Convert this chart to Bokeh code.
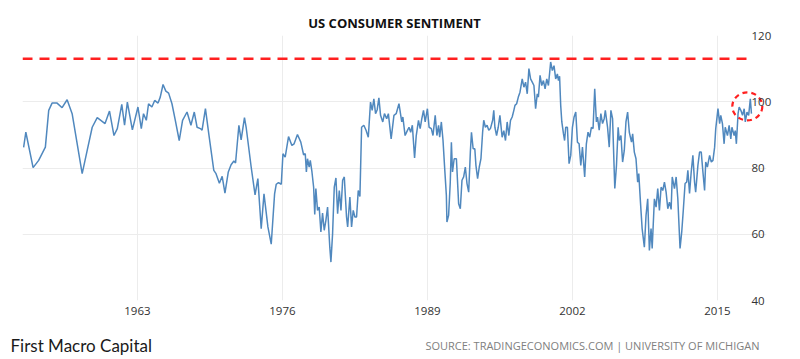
from bokeh.plotting import figure
from bokeh.models import Range1d, FixedTicker, Label
from bokeh.layouts import column
from bokeh.embed import file_html
from bokeh.resources import INLINE

# ---- data ----
years = [
    1952.8, 1953.0, 1953.65, 1954.15, 1954.75, 1955.05, 1955.35, 1955.8, 1956.25, 1956.7,
    1957.15, 1958.05, 1958.5, 1958.95, 1959.4, 1960.1, 1960.5, 1960.9, 1961.2, 1961.6,
    1961.85, 1962.1, 1962.55, 1963.05, 1963.35, 1963.55, 1963.8, 1964.0, 1964.3, 1964.55,
    1964.85, 1965.05, 1965.3, 1965.55, 1965.8, 1966.1, 1966.4, 1966.75, 1967.05, 1967.45,
    1967.8, 1968.1, 1968.35, 1968.65, 1968.8, 1969.1, 1969.4, 1969.85, 1970.05, 1970.35,
    1970.6, 1970.85, 1971.15, 1971.4, 1971.65, 1971.8, 1972.1, 1972.3, 1972.6, 1972.75,
    1973.2, 1973.55, 1973.8, 1974.1, 1974.35, 1974.7, 1975.0, 1975.3, 1975.45, 1975.65,
    1975.9, 1976.05, 1976.25, 1976.55, 1976.85, 1977.05, 1977.35, 1977.65, 1977.9, 1978.05,
    1978.15, 1978.25, 1978.4, 1978.5, 1978.65, 1978.8, 1978.9, 1979.0, 1979.15, 1979.3,
    1979.45, 1979.6, 1979.75, 1979.9, 1980.05, 1980.25, 1980.35, 1980.5, 1980.65, 1980.8,
    1980.95, 1981.1, 1981.25, 1981.4, 1981.55, 1981.75, 1981.85, 1982.05, 1982.2, 1982.35,
    1982.5, 1982.65, 1982.8, 1982.95, 1983.1, 1983.3, 1983.5, 1983.7, 1983.9, 1984.05,
    1984.2, 1984.35, 1984.5, 1984.65, 1984.8, 1985.0, 1985.15, 1985.35, 1985.5, 1985.75,
    1986.0, 1986.2, 1986.45, 1986.7, 1986.8, 1987.0, 1987.2, 1987.35, 1987.5, 1987.65,
    1987.85, 1988.0, 1988.2, 1988.35, 1988.5, 1988.65, 1988.8, 1989.0, 1989.15, 1989.35,
    1989.5, 1989.7, 1989.85, 1990.0, 1990.1, 1990.25, 1990.4, 1990.55, 1990.7, 1990.75,
    1990.9, 1991.05, 1991.15, 1991.25, 1991.4, 1991.6, 1991.8, 1991.95, 1992.1, 1992.25,
    1992.4, 1992.55, 1992.7, 1992.85, 1992.95, 1993.1, 1993.25, 1993.35, 1993.5, 1993.65,
    1993.8, 1993.95, 1994.05, 1994.2, 1994.35, 1994.5, 1994.65, 1994.85, 1994.95, 1995.05,
    1995.2, 1995.35, 1995.5, 1995.7, 1995.85, 1996.0, 1996.15, 1996.3, 1996.45, 1996.6,
    1996.75, 1996.85, 1997.0, 1997.15, 1997.3, 1997.5, 1997.65, 1997.8, 1997.95, 1998.1,
    1998.25, 1998.4, 1998.55, 1998.7, 1998.85, 1998.95, 1999.1, 1999.25, 1999.4, 1999.55,
    1999.7, 1999.85, 2000.05, 2000.2, 2000.35, 2000.5, 2000.65, 2000.75, 2000.85, 2000.95,
    2001.05, 2001.2, 2001.3, 2001.4, 2001.55, 2001.7, 2001.85, 2002.0, 2002.15, 2002.3,
    2002.45, 2002.6, 2002.75, 2002.9, 2003.1, 2003.25, 2003.4, 2003.55, 2003.7, 2003.85,
    2004.0, 2004.15, 2004.25, 2004.4, 2004.55, 2004.7, 2004.85, 2004.95, 2005.15, 2005.3,
    2005.45, 2005.6, 2005.8, 2005.95, 2006.1, 2006.2, 2006.35, 2006.5, 2006.65, 2006.8,
    2006.95, 2007.1, 2007.3, 2007.4, 2007.55, 2007.7, 2007.85, 2007.95, 2008.1, 2008.25,
    2008.45, 2008.6, 2008.75, 2008.9, 2009.05, 2009.15, 2009.35, 2009.5, 2009.65, 2009.8,
    2009.95, 2010.1, 2010.25, 2010.4, 2010.55, 2010.7, 2010.85, 2010.95, 2011.15, 2011.3,
    2011.45, 2011.65, 2011.8, 2011.95, 2012.1, 2012.25, 2012.35, 2012.5, 2012.65, 2012.8,
    2012.95, 2013.05, 2013.25, 2013.4, 2013.55, 2013.7, 2013.85, 2013.95, 2014.1, 2014.3,
    2014.45, 2014.6, 2014.75, 2014.85, 2015.05, 2015.2, 2015.3, 2015.45, 2015.6, 2015.7,
    2015.9, 2016.05, 2016.2, 2016.3, 2016.5, 2016.6, 2016.7, 2016.85, 2016.95, 2017.1,
    2017.25, 2017.4, 2017.5, 2017.65, 2017.8, 2017.95, 2018.05,
]
sentiment = [
    86.2, 90.8, 80.1, 82.3, 86.3, 97.4, 99.6, 99.6, 98.2, 100.6,
    96.4, 78.3, 85.3, 92.3, 95.2, 93.4, 97.2, 89.8, 91.9, 99.2,
    92.9, 99.9, 91.5, 98.4, 91.9, 96.4, 94.4, 99.4, 98.4, 100.4,
    99.6, 101.4, 105.2, 103.2, 102.6, 99.4, 94.4, 88.3, 94.4, 96.9,
    92.9, 96.9, 92.3, 91.9, 91.4, 97.9, 90.3, 79.3, 78.3, 75.4,
    77.5, 72.4, 78.8, 81.0, 82.1, 81.5, 92.9, 88.5, 95.2, 92.3,
    80.3, 71.9, 76.8, 61.7, 72.2, 62.2, 57.0, 72.2, 75.1, 75.6,
    75.1, 84.3, 83.3, 89.5, 86.8, 87.3, 90.1, 87.8, 84.0, 84.3,
    78.8, 82.8, 80.3, 82.3, 78.8, 74.2, 66.0, 73.8, 67.2, 68.2,
    60.7, 66.4, 61.2, 64.2, 68.2, 56.1, 51.6, 60.2, 74.2, 77.0,
    66.2, 73.2, 67.2, 76.3, 77.3, 65.2, 62.2, 71.2, 62.2, 67.2,
    65.2, 65.2, 73.2, 71.4, 92.3, 92.9, 91.4, 89.3, 99.9, 97.4,
    100.9, 96.4, 97.6, 101.2, 95.9, 93.9, 96.4, 94.9, 96.4, 88.8,
    95.9, 96.4, 99.4, 93.9, 95.4, 89.8, 91.3, 92.3, 90.8, 92.9,
    83.0, 89.8, 94.4, 91.9, 94.9, 97.4, 93.9, 97.9, 92.3, 91.9,
    89.8, 95.9, 89.8, 92.9, 89.3, 93.9, 88.3, 79.8, 71.7, 63.7,
    65.7, 75.7, 87.8, 78.8, 82.8, 82.8, 69.2, 67.7, 76.3, 77.3,
    80.3, 75.3, 72.7, 84.8, 90.8, 85.8, 85.8, 80.8, 76.8, 80.3,
    82.8, 90.8, 94.4, 92.3, 92.9, 91.4, 91.9, 94.4, 97.4, 92.3,
    89.8, 92.3, 95.9, 89.3, 91.3, 88.3, 93.9, 89.8, 94.4, 95.4,
    97.4, 98.9, 99.4, 101.4, 102.9, 106.9, 104.4, 105.9, 102.4, 110.0,
    106.9, 105.9, 104.9, 97.9, 102.4, 101.4, 108.0, 104.9, 106.4, 103.9,
    106.9, 104.9, 112.0, 109.4, 110.9, 106.9, 108.4, 106.4, 107.7, 98.9,
    93.9, 90.3, 88.3, 92.3, 92.3, 81.3, 83.8, 92.3, 95.4, 96.9,
    87.8, 87.3, 80.8, 86.3, 77.3, 87.3, 90.8, 89.3, 92.3, 91.9,
    103.9, 93.9, 95.4, 91.4, 96.4, 93.4, 94.9, 97.4, 92.3, 86.3,
    97.4, 94.9, 73.8, 80.8, 92.3, 88.3, 89.8, 81.8, 85.3, 93.9,
    96.9, 90.8, 87.8, 90.3, 84.8, 82.8, 75.7, 78.3, 69.7, 61.7,
    56.1, 65.7, 70.7, 55.1, 61.7, 55.7, 70.7, 68.2, 73.8, 67.2,
    74.2, 73.2, 75.7, 72.7, 67.7, 69.7, 67.5, 77.3, 73.8, 77.3,
    70.7, 55.7, 60.7, 67.7, 75.3, 75.8, 79.3, 72.3, 78.8, 83.8,
    75.7, 72.7, 80.8, 84.8, 84.8, 78.8, 73.2, 81.8, 80.3, 83.8,
    81.8, 82.3, 86.3, 91.9, 97.9, 93.4, 95.9, 93.4, 87.3, 92.3,
    89.8, 92.9, 88.8, 92.3, 89.8, 91.3, 87.3, 96.4, 98.4, 97.4,
    95.9, 97.9, 93.9, 96.9, 95.9, 100.9, 96.4,
]
tick_years = [1963, 1976, 1989, 2002, 2015]
tick_values = [40, 60, 80, 100, 120]
reference_level = 113
highlight_year = [2017.68]
highlight_value = [98.6]

title_text = "US CONSUMER SENTIMENT"
brand_text = "First Macro Capital"
source_text = "SOURCE: TRADINGECONOMICS.COM | UNIVERSITY OF MICHIGAN"

# ---- layout values ----
x_start, x_grid_end, x_frame_end = 1952.7, 2018.15, 2019.4
W, H_MAIN, H_FOOT = 800, 330, 29
ML, MR, MT, MB = 22, 34, 35, 30

p = figure(width=W, height=H_MAIN, output_backend="svg", toolbar_location=None,
           x_range=Range1d(x_start, x_frame_end), y_range=Range1d(40, 120),
           y_axis_location="right",
           min_border_left=ML, min_border_right=MR, min_border_top=MT, min_border_bottom=MB,
           title=title_text)
p.frame_align = False
p.outline_line_color = None
p.background_fill_color = "white"
p.border_fill_color = "white"

p.title.align = "center"
p.title.text_font = "Open Sans"
p.title.text_font_size = "13px"
p.title.text_font_style = "bold"
p.title.text_color = "#111111"
p.title.standoff = 7

for ax in (p.xaxis[0], p.yaxis[0]):
    ax.axis_line_color = None
    ax.major_tick_line_color = None
    ax.minor_tick_line_color = None
    ax.major_tick_out = 0
    ax.major_tick_in = 0
    ax.major_label_text_font = "Open Sans"
    ax.major_label_text_font_size = "11.5px"
    ax.major_label_text_color = "#333333"
p.xaxis[0].ticker = FixedTicker(ticks=tick_years)
p.yaxis[0].ticker = FixedTicker(ticks=tick_values)
p.xaxis[0].major_label_standoff = 6
p.yaxis[0].major_label_standoff = -15

p.xgrid.ticker = FixedTicker(ticks=tick_years)
p.ygrid.ticker = FixedTicker(ticks=tick_values)
p.ygrid.bounds = (x_start, x_grid_end)
p.xgrid.grid_line_color = "#ececec"
p.ygrid.grid_line_color = "#ececec"

p.segment(x0=[x_start], y0=[reference_level], x1=[x_grid_end], y1=[reference_level],
          line_color="#ff2020", line_width=2.5, line_dash="10 7")

p.line(years, sentiment, line_color="#5088be", line_width=1.5)

p.ellipse(x=highlight_year, y=highlight_value, width=30, height=28,
          width_units="screen", height_units="screen",
          fill_alpha=0, line_color="#ff2020", line_width=2.2, line_dash="5 4")

# ---- footer with the brand and source texts ----
foot = figure(width=W, height=H_FOOT, output_backend="svg", toolbar_location=None,
              x_range=Range1d(0, W), y_range=Range1d(0, H_FOOT),
              x_axis_location=None, y_axis_location=None,
              min_border=0, min_border_left=0, min_border_right=0,
              min_border_top=0, min_border_bottom=0)
foot.frame_align = False
foot.grid.visible = False
foot.outline_line_color = None
foot.background_fill_color = "white"
foot.border_fill_color = "white"
foot.add_layout(Label(x=10, y=14, x_units="screen", y_units="screen", text=brand_text,
                      text_font="Lato", text_font_size="17px", text_color="#1a1a1a",
                      text_baseline="middle"))
foot.add_layout(Label(x=759, y=14, x_units="screen", y_units="screen", text=source_text,
                      text_font="Open Sans", text_font_size="11px", text_color="#808080",
                      text_baseline="middle", text_align="right"))

open("out.html", "w").write(file_html(column(p, foot, spacing=0), INLINE))
